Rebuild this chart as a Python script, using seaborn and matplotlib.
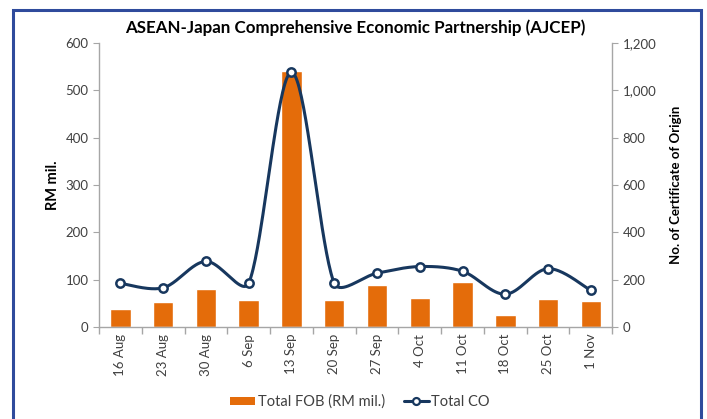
import numpy as np
import pandas as pd
import matplotlib
matplotlib.use("Agg")
import matplotlib.pyplot as plt
import seaborn as sns
from matplotlib.lines import Line2D
from matplotlib.patches import Patch, Rectangle
from matplotlib.ticker import FuncFormatter, FixedLocator

# Data
weeks = ["16 Aug", "23 Aug", "30 Aug", "6 Sep", "13 Sep", "20 Sep",
         "27 Sep", "4 Oct", "11 Oct", "18 Oct", "25 Oct", "1 Nov"]
total_fob = [37, 53, 79, 57, 541, 57, 88, 61, 95, 24, 59, 55]
total_co = [184, 165, 277, 185, 1077, 185, 227, 255, 235, 138, 246, 154]

BAR_COLOR = "#E46C0A"
LINE_COLOR = "#17375E"
FRAME_COLOR = "#2F4B9C"
TEXT_COLOR = "#404040"
SPINE_COLOR = "#A6A6A6"

AX_RECT = [0.140, 0.220, 0.726, 0.677]


def smooth_curve(x, y, sx, sy, n=40, cap=0.33):
    # Excel-like smoothed line: Catmull-Rom bezier segments in screen space,
    # control arm capped by a share of the segment length (limits overshoot)
    P = np.column_stack([np.asarray(x, float) * sx, np.asarray(y, float) * sy])
    m = len(P)
    tang = np.zeros_like(P)
    for i in range(m):
        tang[i] = (P[min(i + 1, m - 1)] - P[max(i - 1, 0)]) / 6
    t = np.linspace(0, 1, n)[:, None]
    pts = []
    for i in range(m - 1):
        p1, p2 = P[i], P[i + 1]
        L = np.linalg.norm(p2 - p1)
        a1, a2 = tang[i], tang[i + 1]
        n1, n2 = np.linalg.norm(a1), np.linalg.norm(a2)
        if n1 > cap * L:
            a1 = a1 * cap * L / n1
        if n2 > cap * L:
            a2 = a2 * cap * L / n2
        c1 = p1 + a1
        c2 = p2 - a2
        b = (1 - t) ** 3 * p1 + 3 * (1 - t) ** 2 * t * c1 + 3 * (1 - t) * t ** 2 * c2 + t ** 3 * p2
        pts.append(b)
    pts = np.vstack(pts)
    return pts[:, 0] / sx, pts[:, 1] / sy


sns.set_style("white")
plt.rcParams["font.family"] = ["Lato", "DejaVu Sans"]

df = pd.DataFrame({"week": weeks, "fob": total_fob, "co": total_co})

fig = plt.figure(figsize=(7.07, 4.19), dpi=100)
ax = fig.add_axes(AX_RECT)

sns.barplot(data=df, x="week", y="fob", color=BAR_COLOR, width=0.48,
            saturation=1, ax=ax, zorder=2)
ax.set_xlim(-0.5, len(weeks) - 0.5)
ax.set_ylim(0, 600)
ax.set_yticks(np.arange(0, 601, 100))

ax2 = ax.twinx()
xpos = np.arange(len(weeks))
px_per_cat = AX_RECT[2] * 707 / len(weeks)
px_per_co = AX_RECT[3] * 419 / 1200
cx, cy = smooth_curve(xpos, total_co, px_per_cat, px_per_co)
ax2.plot(cx, cy, color=LINE_COLOR, lw=2.2, zorder=3)
sns.scatterplot(x=xpos, y=total_co, ax=ax2, s=36, color="white",
                edgecolor=LINE_COLOR, linewidth=1.8, zorder=4, legend=False)
ax2.set_ylim(0, 1200)
ax2.set_yticks(np.arange(0, 1201, 200))
ax2.yaxis.set_major_formatter(FuncFormatter(lambda v, p: f"{int(v):,}"))
ax2.set_xlim(-0.5, len(weeks) - 0.5)

# spines
for a in (ax, ax2):
    for s in a.spines.values():
        s.set_visible(False)
ax.spines["left"].set_visible(True)
ax.spines["bottom"].set_visible(True)
ax2.spines["right"].set_visible(True)
for s in (ax.spines["left"], ax.spines["bottom"], ax2.spines["right"]):
    s.set_color(SPINE_COLOR)
    s.set_linewidth(1.0)

# ticks
ax.tick_params(axis="y", colors=SPINE_COLOR, labelcolor=TEXT_COLOR, labelsize=9.5,
               direction="out", length=4, left=True)
ax2.tick_params(axis="y", colors=SPINE_COLOR, labelcolor=TEXT_COLOR, labelsize=9.5,
                direction="out", length=4, right=True)
ax.set_xticks(xpos)
ax.set_xticklabels(weeks, rotation=90)
ax.tick_params(axis="x", length=0, labelcolor=TEXT_COLOR, labelsize=9.5, pad=5)
ax.xaxis.set_minor_locator(FixedLocator(np.arange(-0.5, len(weeks), 1.0)))
ax.tick_params(axis="x", which="minor", bottom=True, length=5, color=SPINE_COLOR, width=1)

ax.set_xlabel("")
ax.set_ylabel("RM mil.", fontsize=10.5, fontweight="bold", color="black", labelpad=4)
ax2.set_ylabel("No. of Certificate of Origin", fontsize=9.5, fontweight="bold",
               color="black", labelpad=10)

fig.text(0.5 * (AX_RECT[0] + AX_RECT[0] + AX_RECT[2]), 0.935,
         "ASEAN-Japan Comprehensive Economic Partnership (AJCEP)",
         ha="center", va="center", fontsize=12.2, fontweight="bold", color="black")

handles = [Patch(facecolor=BAR_COLOR, edgecolor="none"),
           Line2D([0], [0], color=LINE_COLOR, lw=2.2, marker="o", markersize=5,
                  markerfacecolor="white", markeredgecolor=LINE_COLOR, markeredgewidth=1.6)]
fig.legend(handles, ["Total FOB (RM mil.)", "Total CO"], loc="center",
           bbox_to_anchor=(0.509, 0.041), ncol=2, frameon=False, fontsize=10.5,
           handlelength=1.75, handleheight=0.5, handletextpad=0.15, columnspacing=1.3,
           labelcolor=TEXT_COLOR)

# outer frame (bottom edge runs off the image)
fig.patches.append(Rectangle((13 / 707, -0.05), (701 - 13) / 707, 1.05 - 10 / 419,
                             transform=fig.transFigure, fill=False,
                             edgecolor=FRAME_COLOR, linewidth=2.2))

fig.savefig("out.png", dpi=100)
